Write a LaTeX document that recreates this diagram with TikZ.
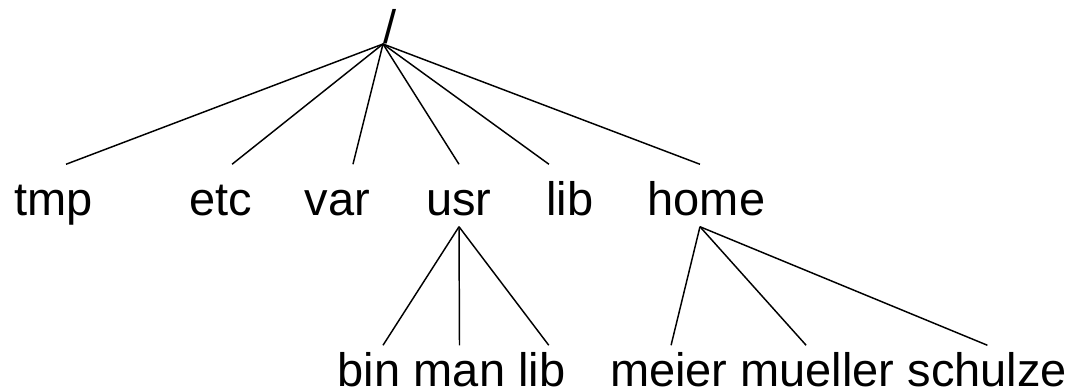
\documentclass[tikz,border=0pt]{standalone}
\usepackage{fontspec}
\setmainfont{Liberation Sans}

\begin{document}
\begin{tikzpicture}[x=0.75pt,y=-0.75pt,line width=1.1pt,
    dirname/.style={inner sep=0pt,anchor=base,font=\fontsize{35.25}{42}\selectfont},
    toplevel/.style={dirname,text height=38.25pt,text depth=7.5pt},
    sublevel/.style={dirname,text height=30.75pt}]
    \useasboundingbox (0,0) rectangle (1078,391);
    % root and first level
    \node[dirname,anchor=base west] (root) at (383,44) {/};
    \node[toplevel] (tmp) at (53.5,216) {tmp};
    \node[toplevel] (etc) at (221,216) {etc};
    \node[toplevel] (var) at (337.5,216) {var};
    \node[toplevel] (usr) at (459,216) {usr};
    \node[toplevel] (lib) at (570,216) {lib};
    \node[toplevel] (home) at (706.5,216) {home};
    % second level
    \node[sublevel] (bin) at (369,387) {bin};
    \node[sublevel] (man) at (459.5,387) {man};
    \node[sublevel] (usrlib) at (541.7,387) {lib};
    \node[sublevel] (meier) at (668.8,387) {meier};
    \node[sublevel] (mueller) at (817.6,387) {mueller};
    \node[sublevel] (schulze) at (987.4,387) {schulze};
    % edges
    \draw (root.base west) -- ([xshift=9.4pt]tmp.north);
    \draw (root.base west) -- ([xshift=8.3pt]etc.north);
    \draw (root.base west) -- ([xshift=11.6pt]var.north);
    \draw (root.base west) -- (usr.north);
    \draw (root.base west) -- ([xshift=-15.8pt]lib.north);
    \draw (root.base west) -- ([xshift=-4.9pt]home.north);
    \draw (usr.south) -- ([xshift=10.5pt]bin.north);
    \draw (usr.south) -- (man.north);
    \draw (usr.south) -- ([xshift=5.3pt]usrlib.north);
    \draw ([xshift=-4.9pt]home.south) -- ([xshift=1.7pt]meier.north);
    \draw ([xshift=-4.9pt]home.south) -- ([xshift=-8.6pt]mueller.north);
    \draw ([xshift=-4.9pt]home.south) -- (schulze.north);
\end{tikzpicture}
\end{document}
